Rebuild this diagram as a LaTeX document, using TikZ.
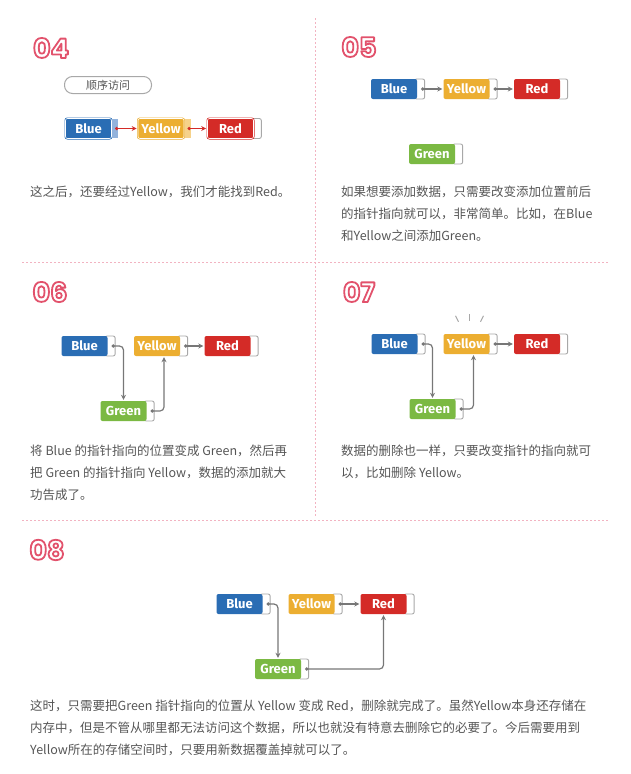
\documentclass[tikz,border=0pt]{standalone}
\usepackage{fontspec}
\setmainfont{Noto Sans CJK SC}
\newfontfamily\numfont{Poppins}
\newfontfamily\boxfont{Fira Sans}
\usetikzlibrary{positioning,calc,arrows.meta,backgrounds}
\definecolor{dBlue}{HTML}{2A6DB4}
\definecolor{dYellow}{HTML}{ECAE31}
\definecolor{dRed}{HTML}{D42B27}
\definecolor{dGreen}{HTML}{7BB943}
\definecolor{lBlue}{HTML}{93B3DC}
\definecolor{lYellow}{HTML}{F6D28A}
\definecolor{ptrGray}{HTML}{A8A8A8}
\definecolor{arrGray}{HTML}{777777}
\definecolor{txtGray}{HTML}{555555}
\definecolor{dashPink}{HTML}{F2B3C1}

\tikzset{
  databox/.style={minimum width=46pt, minimum height=20pt, inner sep=0pt,
    rounded corners=2pt, text=white, font=\boxfont\bfseries\fontsize{13}{13}\selectfont},
  hlbox/.style={databox, draw=#1, double=white, double distance=0.6pt, line width=0.7pt},
  ptrbox/.style={minimum width=10pt, minimum height=20pt, inner sep=0pt,
    rounded corners=2pt, draw=ptrGray, line width=0.9pt, fill=white},
  hlptr/.style={minimum width=6pt, minimum height=19pt, inner sep=0pt, fill=#1},
  ptrline/.style={draw=arrGray, line width=1.2pt, rounded corners=4pt,
    {Circle[length=3.2pt]}-{Stealth[length=5pt,width=5pt]}, shorten >=1pt},
  redline/.style={ptrline, draw=dRed},
  pill/.style={draw=ptrGray, line width=1pt, rounded corners=8pt, minimum width=87pt,
    minimum height=17pt, inner sep=0pt, text=txtGray, font=\fontsize{11}{11}\selectfont},
  bodytxt/.style={anchor=north west, inner sep=0pt, align=left, text=txtGray,
    font=\fontsize{12.5}{22}\selectfont},
  numtxt/.style={inner sep=0pt, text=white, font=\numfont\bfseries\fontsize{27}{27}\selectfont},
  divider/.style={draw=dashPink, line width=1pt, dash pattern=on 2pt off 2pt},
  spark/.style={draw=ptrGray, line width=1pt},
}

% white glyphs with a pink outline
\newcommand{\outl}[1]{\special{pdf:literal direct 2 Tr 1.8 w 1 j 0.886 0.322 0.424 RG}#1\special{pdf:literal direct 0 Tr}}

\begin{document}
\begin{tikzpicture}[x=1pt,y=-1pt]
  \useasboundingbox (0,0) rectangle (631,774);

  % dividers
  \draw[divider] (315,18) -- (315,517);
  \draw[divider] (22,262) -- (608,262);
  \draw[divider] (22,520) -- (608,520);

  % 04
  \node[numtxt] (n4) at (51,48) {\outl{04}};
  \node[pill] (seq) at (108,85) {顺序访问};
  \node[hlbox=dBlue, fill=dBlue] (b4) at (88.5,128.5) {Blue};
  \node[hlptr=lBlue, right=0pt of b4] (b4p) {};
  \node[hlbox=dYellow, fill=dYellow] (y4) at (161,128.5) {Yellow};
  \node[hlptr=lYellow, right=0pt of y4] (y4p) {};
  \node[hlbox=dRed, fill=dRed] (r4) at (230.5,128.5) {Red};
  \begin{scope}[on background layer]
    \node[ptrbox, right=-3pt of r4] (r4p) {};
  \end{scope}
  \draw[redline] (b4p.center) -- (y4.west);
  \draw[redline] (y4p.center) -- (r4.west);
  \node[bodytxt] (t4) at (30,186) {这之后，还要经过Yellow，我们才能找到Red。};

  % 05
  \node[numtxt] (n5) at (359,47) {\outl{05}};
  \node[databox, fill=dBlue] (b5) at (394,89) {Blue};
  \node[databox, fill=dYellow] (y5) at (466.5,89) {Yellow};
  \node[databox, fill=dRed] (r5) at (537,89) {Red};
  \node[databox, fill=dGreen] (g5) at (432,154) {Green};
  \begin{scope}[on background layer]
    \node[ptrbox, right=-3pt of b5] (b5p) {};
    \node[ptrbox, right=-3pt of y5] (y5p) {};
    \node[ptrbox, right=-3pt of r5] (r5p) {};
    \node[ptrbox, right=-3pt of g5] (g5p) {};
  \end{scope}
  \draw[ptrline] ([xshift=1.5pt]b5p.center) -- (y5.west);
  \draw[ptrline] ([xshift=1.5pt]y5p.center) -- (r5.west);
  \node[bodytxt] (t5) at (341,186) {如果想要添加数据，只需要改变添加位置前后\\
    的指针指向就可以，非常简单。比如，在Blue\\和Yellow之间添加Green。};

  % 06
  \node[numtxt] (n6) at (50,292) {\outl{06}};
  \node[databox, fill=dBlue] (b6) at (84.5,346) {Blue};
  \node[databox, fill=dYellow] (y6) at (157,346) {Yellow};
  \node[databox, fill=dRed] (r6) at (227.5,346) {Red};
  \node[databox, fill=dGreen] (g6) at (123.5,411) {Green};
  \begin{scope}[on background layer]
    \node[ptrbox, right=-3pt of b6] (b6p) {};
    \node[ptrbox, right=-3pt of y6] (y6p) {};
    \node[ptrbox, right=-3pt of r6] (r6p) {};
    \node[ptrbox, right=-3pt of g6] (g6p) {};
  \end{scope}
  \draw[ptrline] ([xshift=1.5pt]b6p.center) -| (g6.north);
  \draw[ptrline] ([xshift=1.5pt]g6p.center) -| ([xshift=7pt]y6.south);
  \draw[ptrline] ([xshift=1.5pt]y6p.center) -- (r6.west);
  \node[bodytxt] (t6) at (30,445) {将 Blue 的指针指向的位置变成 Green，然后再\\
    把 Green 的指针指向 Yellow，数据的添加就大\\功告成了。};

  % 07
  \node[numtxt] (n7) at (359,292) {\outl{07}};
  \node[databox, fill=dBlue] (b7) at (394.5,344) {Blue};
  \node[databox, fill=dYellow] (y7) at (466.5,344) {Yellow};
  \node[databox, fill=dRed] (r7) at (537,344) {Red};
  \node[databox, fill=dGreen] (g7) at (432.5,409) {Green};
  \begin{scope}[on background layer]
    \node[ptrbox, right=-3pt of b7] (b7p) {};
    \node[ptrbox, right=-3pt of y7] (y7p) {};
    \node[ptrbox, right=-3pt of r7] (r7p) {};
    \node[ptrbox, right=-3pt of g7] (g7p) {};
  \end{scope}
  \draw[ptrline] ([xshift=1.5pt]b7p.center) -| (g7.north);
  \draw[ptrline] ([xshift=1.5pt]g7p.center) -| ([xshift=7pt]y7.south);
  \draw[ptrline] ([xshift=1.5pt]y7p.center) -- (r7.west);
  \draw[spark] ([shift={(-11,-18)}]y7.north) -- ([shift={(-8,-12)}]y7.north);
  \draw[spark] ([shift={(3,-20)}]y7.north) -- ([shift={(3,-13)}]y7.north);
  \draw[spark] ([shift={(17,-18)}]y7.north) -- ([shift={(14,-12)}]y7.north);
  \node[bodytxt] (t7) at (341,445) {数据的删除也一样，只要改变指针的指向就可\\
    以，比如删除 Yellow。};

  % 08
  \node[numtxt] (n8) at (47,550) {\outl{08}};
  \node[databox, fill=dBlue] (b8) at (239.5,604) {Blue};
  \node[databox, fill=dYellow] (y8) at (311.5,604) {Yellow};
  \node[databox, fill=dRed] (r8) at (383.5,604) {Red};
  \node[databox, fill=dGreen] (g8) at (278,669) {Green};
  \begin{scope}[on background layer]
    \node[ptrbox, right=-3pt of b8] (b8p) {};
    \node[ptrbox, right=-3pt of y8] (y8p) {};
    \node[ptrbox, right=-3pt of r8] (r8p) {};
    \node[ptrbox, right=-3pt of g8] (g8p) {};
  \end{scope}
  \draw[ptrline] ([xshift=1.5pt]b8p.center) -| (g8.north);
  \draw[ptrline] ([xshift=1.5pt]g8p.center) -| (r8.south);
  \draw[ptrline] ([xshift=1.5pt]y8p.center) -- (r8.west);
  \node[bodytxt] (t8) at (30,700) {这时，只需要把Green 指针指向的位置从 Yellow 变成 Red，删除就完成了。虽然Yellow本身还存储在\\
    内存中，但是不管从哪里都无法访问这个数据，所以也就没有特意去删除它的必要了。今后需要用到\\
    Yellow所在的存储空间时，只要用新数据覆盖掉就可以了。};
\end{tikzpicture}
\end{document}
